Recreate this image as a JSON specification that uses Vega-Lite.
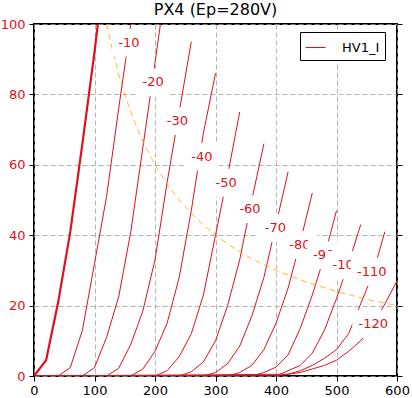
{
  "$schema": "https://vega.github.io/schema/vega-lite/v6.json",
  "width": 363,
  "height": 352,
  "autosize": "none",
  "padding": {"left": 34, "top": 24, "right": 15, "bottom": 22},
  "background": "white",
  "title": {"text": "PX4 (Ep=280V)", "fontSize": 16, "font": "DejaVu Sans", "fontWeight": "normal", "color": "black", "anchor": "middle", "frame": "group", "offset": 7, "baseline": "alphabetic", "dy": 20},
  "config": {"view": {"stroke": "black", "strokeWidth": 2}, "font": "DejaVu Sans"},
  "datasets": {
    "curves": [
      {"g": 0, "V": 0, "I": 0}, {"g": 0, "V": 20, "I": 4.5}, {"g": 0, "V": 40, "I": 21}, {"g": 0, "V": 60, "I": 41}, {"g": 0, "V": 80, "I": 66}, {"g": 0, "V": 100, "I": 92}, {"g": 0, "V": 105.5, "I": 100},
      {"g": -10, "V": 0, "I": 0}, {"g": -10, "V": 40, "I": 0}, {"g": -10, "V": 60, "I": 2.4}, {"g": -10, "V": 80, "I": 13}, {"g": -10, "V": 100, "I": 32}, {"g": -10, "V": 120, "I": 51}, {"g": -10, "V": 140, "I": 76}, {"g": -10, "V": 160, "I": 100},
      {"g": -20, "V": 0, "I": 0}, {"g": -20, "V": 80, "I": 0}, {"g": -20, "V": 100, "I": 2.4}, {"g": -20, "V": 120, "I": 11}, {"g": -20, "V": 140, "I": 22.5}, {"g": -20, "V": 160, "I": 41}, {"g": -20, "V": 180, "I": 65}, {"g": -20, "V": 200, "I": 89}, {"g": -20, "V": 209, "I": 100},
      {"g": -30, "V": 0, "I": 0}, {"g": -30, "V": 120, "I": 0}, {"g": -30, "V": 140, "I": 2.2}, {"g": -30, "V": 160, "I": 9}, {"g": -30, "V": 180, "I": 18.5}, {"g": -30, "V": 200, "I": 33}, {"g": -30, "V": 220, "I": 55}, {"g": -30, "V": 240, "I": 75}, {"g": -30, "V": 260, "I": 95},
      {"g": -40, "V": 0, "I": 0}, {"g": -40, "V": 160, "I": 0}, {"g": -40, "V": 180, "I": 2}, {"g": -40, "V": 200, "I": 7}, {"g": -40, "V": 220, "I": 15}, {"g": -40, "V": 240, "I": 28}, {"g": -40, "V": 260, "I": 47}, {"g": -40, "V": 280, "I": 69}, {"g": -40, "V": 300, "I": 86},
      {"g": -50, "V": 0, "I": 0}, {"g": -50, "V": 200, "I": 0}, {"g": -50, "V": 220, "I": 1.5}, {"g": -50, "V": 240, "I": 5.5}, {"g": -50, "V": 260, "I": 12}, {"g": -50, "V": 280, "I": 23}, {"g": -50, "V": 300, "I": 40}, {"g": -50, "V": 320, "I": 57}, {"g": -50, "V": 340, "I": 75},
      {"g": -60, "V": 0, "I": 0}, {"g": -60, "V": 240, "I": 0}, {"g": -60, "V": 260, "I": 1.2}, {"g": -60, "V": 280, "I": 4}, {"g": -60, "V": 300, "I": 10}, {"g": -60, "V": 320, "I": 20}, {"g": -60, "V": 340, "I": 33}, {"g": -60, "V": 360, "I": 50}, {"g": -60, "V": 380, "I": 66},
      {"g": -70, "V": 0, "I": 0}, {"g": -70, "V": 280, "I": 0}, {"g": -70, "V": 300, "I": 1}, {"g": -70, "V": 320, "I": 3.5}, {"g": -70, "V": 340, "I": 8.5}, {"g": -70, "V": 360, "I": 17}, {"g": -70, "V": 380, "I": 28}, {"g": -70, "V": 400, "I": 43}, {"g": -70, "V": 420, "I": 58},
      {"g": -80, "V": 0, "I": 0}, {"g": -80, "V": 320, "I": 0}, {"g": -80, "V": 340, "I": 1}, {"g": -80, "V": 360, "I": 3}, {"g": -80, "V": 380, "I": 7.5}, {"g": -80, "V": 400, "I": 15}, {"g": -80, "V": 420, "I": 25}, {"g": -80, "V": 440, "I": 38}, {"g": -80, "V": 460, "I": 52},
      {"g": -90, "V": 0, "I": 0}, {"g": -90, "V": 360, "I": 0}, {"g": -90, "V": 380, "I": 1}, {"g": -90, "V": 400, "I": 2.5}, {"g": -90, "V": 420, "I": 6}, {"g": -90, "V": 440, "I": 13.5}, {"g": -90, "V": 460, "I": 23}, {"g": -90, "V": 480, "I": 34}, {"g": -90, "V": 500, "I": 47},
      {"g": -100, "V": 0, "I": 0}, {"g": -100, "V": 400, "I": 0}, {"g": -100, "V": 420, "I": 1.5}, {"g": -100, "V": 440, "I": 3}, {"g": -100, "V": 460, "I": 6.5}, {"g": -100, "V": 480, "I": 13}, {"g": -100, "V": 500, "I": 22}, {"g": -100, "V": 520, "I": 32}, {"g": -100, "V": 540, "I": 43},
      {"g": -110, "V": 0, "I": 0}, {"g": -110, "V": 420, "I": 0.5}, {"g": -110, "V": 440, "I": 1.5}, {"g": -110, "V": 460, "I": 3}, {"g": -110, "V": 480, "I": 5}, {"g": -110, "V": 500, "I": 7.5}, {"g": -110, "V": 520, "I": 12}, {"g": -110, "V": 540, "I": 20.5}, {"g": -110, "V": 560, "I": 29}, {"g": -110, "V": 580, "I": 41},
      {"g": -120, "V": 0, "I": 0}, {"g": -120, "V": 400, "I": 0}, {"g": -120, "V": 420, "I": 0.5}, {"g": -120, "V": 440, "I": 1}, {"g": -120, "V": 460, "I": 2}, {"g": -120, "V": 480, "I": 3}, {"g": -120, "V": 500, "I": 4.5}, {"g": -120, "V": 520, "I": 7}, {"g": -120, "V": 540, "I": 10}, {"g": -120, "V": 560, "I": 14.5}, {"g": -120, "V": 580, "I": 20.5}, {"g": -120, "V": 600, "I": 27}
    ],
    "pd": [
      {"V": 120, "I": 100}, {"V": 130, "I": 92.3}, {"V": 140, "I": 85.7}, {"V": 150, "I": 80}, {"V": 160, "I": 75}, {"V": 170, "I": 70.6}, {"V": 180, "I": 66.7}, {"V": 200, "I": 60}, {"V": 220, "I": 54.5}, {"V": 240, "I": 50}, {"V": 260, "I": 46.2}, {"V": 280, "I": 42.9}, {"V": 300, "I": 40}, {"V": 325, "I": 36.9}, {"V": 350, "I": 34.3}, {"V": 375, "I": 32}, {"V": 400, "I": 30}, {"V": 450, "I": 26.7}, {"V": 500, "I": 24}, {"V": 550, "I": 21.8}, {"V": 600, "I": 20}
    ],
    "labels": [
      {"t": "-10", "V": 157, "I": 94.7},
      {"t": "-20", "V": 197, "I": 83.4},
      {"t": "-30", "V": 237, "I": 72.4},
      {"t": "-40", "V": 277.5, "I": 62.3},
      {"t": "-50", "V": 317.7, "I": 54.9},
      {"t": "-60", "V": 357, "I": 47.4},
      {"t": "-70", "V": 399, "I": 42},
      {"t": "-80", "V": 439.5, "I": 37.2},
      {"t": "-90", "V": 478.7, "I": 34.3},
      {"t": "-100", "V": 517.7, "I": 31.5},
      {"t": "-110", "V": 558.3, "I": 29.6},
      {"t": "-120", "V": 560.8, "I": 14.8}
    ]
  },
  "resolve": {"axis": {"y": "independent"}},
  "layer": [
    {
      "data": {"name": "curves"},
      "transform": [{"filter": "datum.g != 0"}],
      "mark": {"type": "line", "strokeWidth": 1, "clip": true},
      "encoding": {
        "x": {"field": "V", "type": "quantitative", "scale": {"domain": [0, 600], "nice": false, "zero": false},
              "axis": {"title": null, "values": [0, 100, 200, 300, 400, 500, 600], "grid": true, "gridColor": "#a0a0a0", "gridDash": [5, 3], "gridWidth": 0.8, "domain": false, "tickSize": 5, "tickColor": "black", "labelColor": "black", "labelFontSize": 13, "labelFont": "DejaVu Sans", "labelPadding": 3, "labelFlush": false, "labelOverlap": false}},
        "y": {"field": "I", "type": "quantitative", "scale": {"domain": [0, 100], "nice": false, "zero": false},
              "axis": {"title": null, "values": [0, 20, 40, 60, 80, 100], "grid": true, "gridColor": "#a0a0a0", "gridDash": [5, 3], "gridWidth": 0.8, "domain": false, "tickSize": 5, "tickColor": "black", "labelColor": "#e01020", "labelFontSize": 13, "labelFont": "DejaVu Sans", "labelPadding": 4, "labelFlush": false, "labelOverlap": false}},
        "detail": {"field": "g", "type": "nominal"},
        "color": {"datum": "HV1_I", "type": "nominal", "scale": {"range": ["#e01020"]},
                  "legend": {"orient": "none", "legendX": 266, "legendY": 8, "title": null, "symbolType": "stroke", "symbolSize": 400, "symbolStrokeWidth": 1, "labelFontSize": 13, "labelFont": "DejaVu Sans", "labelColor": "black", "strokeColor": "black", "fillColor": "white", "padding": 5, "cornerRadius": 0, "labelOffset": 16}}
      }
    },
    {
      "data": {"name": "curves"},
      "transform": [{"filter": "datum.g == 0"}],
      "mark": {"type": "line", "strokeWidth": 2.2, "clip": true, "color": "#e01020"},
      "encoding": {
        "x": {"field": "V", "type": "quantitative"},
        "y": {"field": "I", "type": "quantitative", "axis": null}
      }
    },
    {
      "data": {"name": "pd"},
      "mark": {"type": "line", "strokeWidth": 1, "color": "orange", "strokeOpacity": 0.8, "strokeDash": [6, 4], "clip": true},
      "encoding": {
        "x": {"field": "V", "type": "quantitative"},
        "y": {"field": "I", "type": "quantitative", "axis": {"orient": "right", "labels": false, "grid": false, "domain": false, "ticks": true, "tickSize": 5, "tickColor": "black", "values": [0, 20, 40, 60, 80, 100], "title": null}}
      }
    },
    {
      "data": {"name": "labels"},
      "transform": [{"filter": "datum.t == '-10' || datum.t == '-20' || datum.t == '-30' || datum.t == '-40' || datum.t == '-50' || datum.t == '-60' || datum.t == '-70'"}],
      "layer": [
        {"mark": {"type": "point", "shape": "M-1,-0.82H1V0.82H-1Z", "filled": true, "color": "white", "opacity": 1, "size": 1156, "strokeWidth": 0},
         "encoding": {"x": {"field": "V", "type": "quantitative"}, "y": {"field": "I", "type": "quantitative", "axis": null}}},
        {"mark": {"type": "text", "fontSize": 13, "font": "DejaVu Sans", "color": "#e01020", "align": "center", "baseline": "middle"},
         "encoding": {"x": {"field": "V", "type": "quantitative"}, "y": {"field": "I", "type": "quantitative", "axis": null}, "text": {"field": "t"}}}
      ]
    },
    {
      "data": {"name": "labels"},
      "transform": [{"filter": "datum.t == '-80'"}],
      "layer": [
        {"mark": {"type": "point", "shape": "M-1,-0.82H1V0.82H-1Z", "filled": true, "color": "white", "opacity": 1, "size": 1156, "strokeWidth": 0},
         "encoding": {"x": {"field": "V", "type": "quantitative"}, "y": {"field": "I", "type": "quantitative", "axis": null}}},
        {"mark": {"type": "text", "fontSize": 13, "font": "DejaVu Sans", "color": "#e01020", "align": "center", "baseline": "middle"},
         "encoding": {"x": {"field": "V", "type": "quantitative"}, "y": {"field": "I", "type": "quantitative", "axis": null}, "text": {"field": "t"}}}
      ]
    },
    {
      "data": {"name": "labels"},
      "transform": [{"filter": "datum.t == '-90'"}],
      "layer": [
        {"mark": {"type": "point", "shape": "M-1,-0.82H1V0.82H-1Z", "filled": true, "color": "white", "opacity": 1, "size": 1156, "strokeWidth": 0},
         "encoding": {"x": {"field": "V", "type": "quantitative"}, "y": {"field": "I", "type": "quantitative", "axis": null}}},
        {"mark": {"type": "text", "fontSize": 13, "font": "DejaVu Sans", "color": "#e01020", "align": "center", "baseline": "middle"},
         "encoding": {"x": {"field": "V", "type": "quantitative"}, "y": {"field": "I", "type": "quantitative", "axis": null}, "text": {"field": "t"}}}
      ]
    },
    {
      "data": {"name": "labels"},
      "transform": [{"filter": "datum.t == '-100'"}],
      "layer": [
        {"mark": {"type": "point", "shape": "M-1,-0.667H1V0.667H-1Z", "filled": true, "color": "white", "opacity": 1, "size": 1764, "strokeWidth": 0},
         "encoding": {"x": {"field": "V", "type": "quantitative"}, "y": {"field": "I", "type": "quantitative", "axis": null}}},
        {"mark": {"type": "text", "fontSize": 13, "font": "DejaVu Sans", "color": "#e01020", "align": "center", "baseline": "middle"},
         "encoding": {"x": {"field": "V", "type": "quantitative"}, "y": {"field": "I", "type": "quantitative", "axis": null}, "text": {"field": "t"}}}
      ]
    },
    {
      "data": {"name": "labels"},
      "transform": [{"filter": "datum.t == '-110' || datum.t == '-120'"}],
      "layer": [
        {"mark": {"type": "point", "shape": "M-1,-0.667H1V0.667H-1Z", "filled": true, "color": "white", "opacity": 1, "size": 1764, "strokeWidth": 0},
         "encoding": {"x": {"field": "V", "type": "quantitative"}, "y": {"field": "I", "type": "quantitative", "axis": null}}},
        {"mark": {"type": "text", "fontSize": 13, "font": "DejaVu Sans", "color": "#e01020", "align": "center", "baseline": "middle"},
         "encoding": {"x": {"field": "V", "type": "quantitative"}, "y": {"field": "I", "type": "quantitative", "axis": null}, "text": {"field": "t"}}}
      ]
    }
  ]
}
